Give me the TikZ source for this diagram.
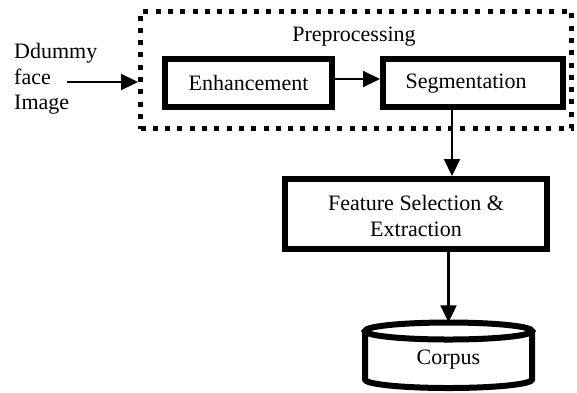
\documentclass[tikz,border=0pt]{standalone}
\usepackage{fontspec}
\setmainfont{Liberation Serif}
\usetikzlibrary{arrows.meta,calc}
\tikzset{
  thickbox/.style={draw=black, line width=6pt, fill=white, inner sep=0pt},
  dotbox/.style={draw=black, line width=5pt, dash pattern=on 5pt off 7.3pt, inner sep=0pt},
  arr/.style={draw=black, line width=2.2pt, -{Triangle[length=17pt 0 0,width=16pt 0 0]}},
  lbl/.style={font=\fontsize{22}{25.5}\selectfont, inner sep=0pt}
}
\begin{document}
\begin{tikzpicture}[x=1pt,y=-1pt]
\useasboundingbox (0,0) rectangle (577,392);
% preprocessing dashed box
\node[dotbox, minimum width=431pt, minimum height=117.5pt] (pre) at (356,69.75) {};
\node[lbl] (pretxt) at (354,37) {Preprocessing};
% boxes
\node[thickbox, minimum width=167pt, minimum height=48pt, lbl] (enh) at (248.5,83) {Enhancement};
\node[thickbox, minimum width=180pt, minimum height=48pt] (seg) at (473,83) {};
\node[lbl] (segtxt) at (466,84) {Segmentation};
\node[thickbox, minimum width=262pt, minimum height=70pt] (feat) at (416,214) {};
\node[lbl, align=center] (feattxt) at (416,216) {Feature Selection \&\\Extraction};
% corpus cylinder
\node[minimum width=167pt, minimum height=65pt, inner sep=0pt] (corp) at (448.5,355) {};
\draw[line width=6pt, fill=white] (365,331) -- (365,379.5) arc[start angle=180, end angle=360, x radius=83.5pt, y radius=8.5pt] -- (532,331);
\draw[line width=6pt, fill=white] (448.5,331) ellipse[x radius=83.5pt, y radius=8.5pt];
\node[lbl] (corptxt) at (448.5,360) {Corpus};
% input
\node[lbl, align=left, anchor=west] (inp) at (14,79) {Ddummy\\face\\Image};
\coordinate (inend) at (67,82);
% connectors
\draw[arr] (inend) -- (inend -| pre.west);
\draw[arr] ([yshift=4pt]enh.east) -- ([yshift=4pt]seg.west);
\draw[arr] ([xshift=-21pt]seg.south) -- ([xshift=-21pt]seg.south |- feat.north);
\draw[arr] (corp.north |- feat.south) -- (corp.north);
\end{tikzpicture}
\end{document}
